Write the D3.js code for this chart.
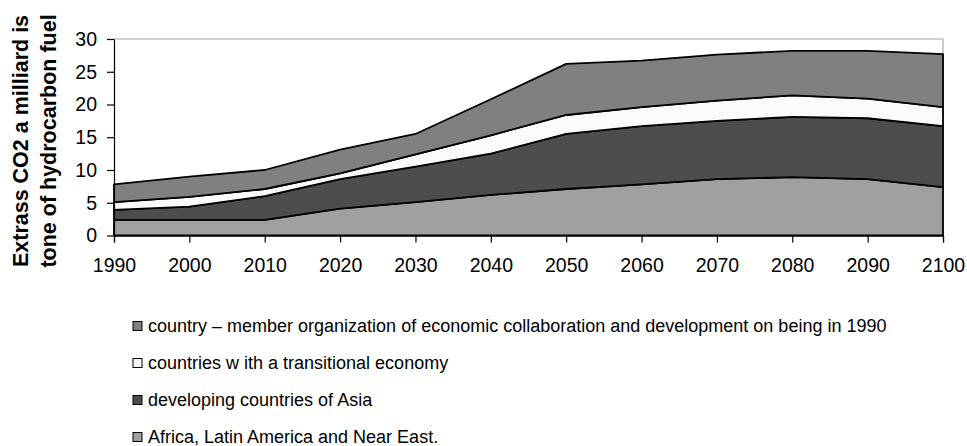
<!DOCTYPE html>
<html>
<head>
<meta charset="utf-8">
<script src="https://cdn.jsdelivr.net/npm/d3@7"></script>
<style>
  html, body { margin: 0; padding: 0; background: #ffffff; }
  svg { display: block; font-family: "Liberation Sans", Arial, sans-serif; }
</style>
</head>
<body>
<svg id="chart" width="967" height="446"></svg>
<script>
// ---- data ----
const years = ["1990","2000","2010","2020","2030","2040","2050","2060","2070","2080","2090","2100"];
const seriesNames = [
  "country – member organization of economic collaboration and development on being in 1990",
  "countries w ith a transitional economy",
  "developing countries of Asia",
  "Africa, Latin America and Near East."
];
// individual (stacked) values
const africa       = [2.4, 2.4, 2.4, 4.1, 5.1, 6.2, 7.1, 7.8, 8.6, 8.9, 8.6, 7.4];
const asia         = [1.5, 2.0, 3.6, 4.5, 5.4, 6.3, 8.4, 8.9, 8.9, 9.2, 9.3, 9.3];
const transitional = [1.2, 1.5, 1.1, 0.9, 1.9, 2.8, 2.9, 2.9, 3.1, 3.3, 3.0, 2.9];
const oecd         = [2.7, 3.1, 2.9, 3.6, 3.1, 5.5, 7.8, 7.1, 7.0, 6.8, 7.3, 8.1];
const yTicks = [0, 5, 10, 15, 20, 25, 30];
const yTitle = ["Extrass CO2 a milliard is", "tone of hydrocarbon fuel"];

// ---- layout ----
(function () {
const svg = d3.select("#chart");
const mLeft = 114, mRight = 943, mTop = 39, mBottom = 235.5;

const x = d3.scalePoint().domain(years).range([mLeft, mRight]);
const y = d3.scaleLinear().domain([0, 30]).range([mBottom, mTop]);

const keys = ["africa", "asia", "transitional", "oecd"];
const colors = { africa: "#a0a0a0", asia: "#4d4d4d", transitional: "#fafafa", oecd: "#808080" };
const labels = { oecd: seriesNames[0], transitional: seriesNames[1], asia: seriesNames[2], africa: seriesNames[3] };
const table = years.map((yr, i) => ({
  year: yr, africa: africa[i], asia: asia[i], transitional: transitional[i], oecd: oecd[i]
}));
const stacked = d3.stack().keys(keys)(table);

// plot border (grey top/right)
svg.append("line").attr("x1", mLeft).attr("x2", mRight).attr("y1", mTop).attr("y2", mTop)
  .attr("stroke", "#a6a6a6").attr("stroke-width", 1.2);
svg.append("line").attr("x1", mRight).attr("x2", mRight).attr("y1", mTop).attr("y2", mBottom)
  .attr("stroke", "#a6a6a6").attr("stroke-width", 1.2);

// areas
const area = d3.area()
  .x(d => x(d.data.year))
  .y0(d => y(d[0]))
  .y1(d => y(d[1]));
svg.append("g").selectAll("path")
  .data(stacked)
  .join("path")
  .attr("d", area)
  .attr("fill", d => colors[d.key])
  .attr("stroke", "#000")
  .attr("stroke-width", 1.8)
  .attr("stroke-linejoin", "round");

// axes
const xAxis = d3.axisBottom(x).tickSize(7).tickPadding(15.5);
const gx = svg.append("g").attr("transform", `translate(0,${mBottom})`).call(xAxis);
gx.select(".domain").attr("stroke", "#000").attr("stroke-width", 1.2);
gx.selectAll(".tick line").attr("stroke", "#000").attr("stroke-width", 1.2);
gx.selectAll(".tick text").attr("font-size", "19.5px").attr("fill", "#000")
  .attr("font-family", "'Liberation Sans', Arial, sans-serif");

const yAxis = d3.axisLeft(y).tickValues(yTicks).tickSize(7).tickPadding(10).tickSizeOuter(0);
const gy = svg.append("g").attr("transform", `translate(${mLeft},0)`).call(yAxis);
gy.select(".domain").attr("stroke", "#000").attr("stroke-width", 1.2);
gy.selectAll(".tick line").attr("stroke", "#000").attr("stroke-width", 1.2);
gy.selectAll(".tick text").attr("font-size", "19.5px").attr("fill", "#000")
  .attr("font-family", "'Liberation Sans', Arial, sans-serif");

// y title
const ty = svg.append("g").attr("transform", "translate(0,141) rotate(-90)");
yTitle.forEach((t, i) => {
  ty.append("text").attr("x", 0).attr("y", 28 + i * 27.5)
    .attr("text-anchor", "middle").attr("font-weight", "bold").attr("font-size", "21.5px")
    .attr("fill", "#000").text(t);
});

// legend
const legendOrder = ["oecd", "transitional", "asia", "africa"];
const lg = svg.append("g");
legendOrder.forEach((k, i) => {
  const cy = 326 + i * 37;
  lg.append("rect").attr("x", 133).attr("y", cy - 4.5).attr("width", 9).attr("height", 9)
    .attr("fill", colors[k]).attr("stroke", "#000").attr("stroke-width", 1);
  lg.append("text").attr("x", 148).attr("y", cy + 6.3)
    .attr("font-size", "18px").attr("fill", "#000").text(labels[k]);
});
})();
</script>
</body>
</html>
